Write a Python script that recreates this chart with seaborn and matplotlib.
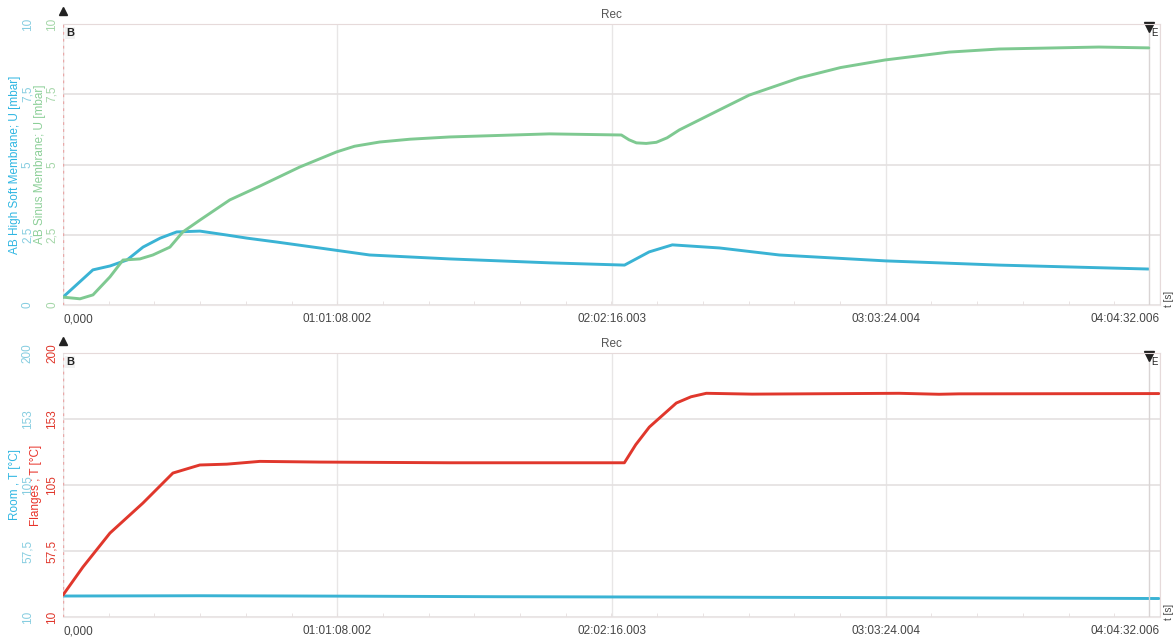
import matplotlib
matplotlib.use("Agg")
import matplotlib.pyplot as plt
import seaborn as sns
import numpy as np
from matplotlib.ticker import FixedLocator, MultipleLocator

# time axis (seconds) and tick labels
x_ticks = [0, 3668.002, 7336.003, 11004.004, 14672.006]
x_ticklabels = ["0,000", "01:01:08.002", "02:02:16.003", "03:03:24.004", "04:04:32.006"]
t_end = 14672.006
cursor_e = 14525

# top panel: AB High Soft Membrane [mbar]
soft_t = [0, 400, 630, 855, 1070, 1300, 1520, 1830, 2190, 2460, 2860, 3430, 4100,
          5170, 6510, 7510, 7840, 8150, 8780, 9580, 11000, 12520, 14520]
soft_u = [0.28, 1.25, 1.39, 1.6, 2.06, 2.38, 2.6, 2.63, 2.49, 2.38, 2.24, 2.03, 1.78,
          1.64, 1.5, 1.42, 1.89, 2.14, 2.03, 1.78, 1.57, 1.42, 1.28]

# top panel: AB Sinus Membrane [mbar]
sinus_t = [0, 227, 401, 628, 802, 1029, 1202, 1430, 1603, 1830, 2231, 2632, 3166, 3661,
           3900, 4235, 4640, 5170, 6506, 7468, 7570, 7669, 7800, 7936, 8080, 8243, 8777,
           9178, 9846, 10400, 10995, 11850, 12518, 13854, 14522]
sinus_u = [0.28, 0.22, 0.36, 1.0, 1.6, 1.64, 1.78, 2.06, 2.6, 3.02, 3.74, 4.23, 4.91, 5.45,
           5.65, 5.8, 5.9, 5.98, 6.09, 6.05, 5.88, 5.77, 5.75, 5.79, 5.95, 6.23, 6.94,
           7.47, 8.08, 8.45, 8.72, 9.0, 9.11, 9.18, 9.15]

# bottom panel: Flanges temperature [°C]
flange_t = [0, 267, 628, 1069, 1470, 1830, 2191, 2632, 3434, 5170, 6506, 7508, 7660,
            7842, 8203, 8400, 8604, 9218, 11182, 11717, 11984, 14656]
flange_T = [25.8, 46, 70.4, 92, 113.6, 119.4, 120, 122, 121.5, 121, 121, 121, 134,
            146.7, 164, 168.5, 171, 170.4, 171, 170.3, 170.6, 170.8]

# bottom panel: Room temperature [°C]
room_t = [0, 1830, 3830, 5840, 8510, 11182, 14656]
room_T = [25.1, 25.3, 25.0, 24.6, 24.3, 23.9, 23.3]

blue = "#3ab3d4"
green = "#7ec991"
red = "#e0372c"
blue_tick = "#86cde0"
green_tick = "#a4d6a8"

sns.set_style("white")
plt.rcParams["font.family"] = ["Liberation Sans", "DejaVu Sans"]

fig = plt.figure(figsize=(11.76, 6.41), dpi=100)
W, H = 1176.0, 641.0
axw = (1160 - 63) / W
ax_top = fig.add_axes([63 / W, 1 - 305 / H, axw, (305 - 24) / H])
ax_bot = fig.add_axes([63 / W, 1 - 617 / H, axw, (617 - 353) / H])


def style_panel(ax, ax2, ylim, yticks, ylabels, c1, c1t, c2, c2t, lab1, lab2, l1x, l2x):
    for a in (ax, ax2):
        a.set_xlim(0, t_end)
        a.set_ylim(*ylim)
        a.yaxis.set_major_locator(FixedLocator(yticks))
        a.set_yticklabels(ylabels, rotation=90, va="center", fontsize=8.5)
        for s in a.spines.values():
            s.set_visible(False)
    ax.tick_params(axis="y", length=0, pad=21, colors=c1t)
    ax2.yaxis.tick_left()
    ax2.yaxis.set_label_position("left")
    ax2.tick_params(axis="y", length=0, pad=3.5, colors=c2t, right=False, labelright=False)
    ax.set_ylabel(lab1, color=c1, fontsize=8.5)
    ax2.set_ylabel(lab2, color=c2, fontsize=8.5)
    ax.yaxis.set_label_coords(l1x, 0.5)
    ax2.yaxis.set_label_coords(l2x, 0.5)

    ax.xaxis.set_major_locator(FixedLocator(x_ticks))
    ax.set_xticklabels(x_ticklabels, fontsize=8.5, color="#444444")
    ax.xaxis.set_minor_locator(MultipleLocator(611.3))
    ax.tick_params(axis="x", which="major", length=0, pad=6)
    ax.tick_params(axis="x", which="minor", length=3, color="#e6dede", direction="in", bottom=True)
    labs = ax.get_xticklabels()
    labs[0].set_ha("left")
    labs[-1].set_ha("right")
    ax2.tick_params(axis="x", length=0, labelbottom=False)

    ax.grid(True, axis="y", color="#e4e0e0", linewidth=1.2)
    ax.grid(True, axis="x", color="#e8e6e6", linewidth=1.0)
    ax.axvline(0, color="#e9a8a8", linestyle=(0, (2, 3)), linewidth=1.0)
    ax.axvline(cursor_e, color="#d9d4d4", linewidth=1.0)
    for side in ("top", "right"):
        ax.spines[side].set_visible(True)
        ax.spines[side].set_color("#e6dada")
    ax.spines["bottom"].set_visible(True)
    ax.spines["bottom"].set_color("#ece6e6")

    ax.set_title("Rec", fontsize=8.5, color="#555555", pad=4)
    ax.text(0.003, 0.985, "B", transform=ax.transAxes, fontsize=8, color="#222222",
            ha="left", va="top", fontweight="bold",
            bbox=dict(boxstyle="square,pad=0.1", fc="#f2f2f2", ec="none"))
    ax.plot([0], [1.045], marker="^", color="#222222", markersize=6,
            transform=ax.transAxes, clip_on=False)
    ax.plot([cursor_e / t_end], [0.99], marker="v", color="#222222", markersize=7,
            transform=ax.transAxes, clip_on=False)
    ax.text(cursor_e / t_end + 0.002, 0.985, "E", transform=ax.transAxes, fontsize=7,
            color="#222222", ha="left", va="top")
    ax.text(1.004, 0.02, "t [s]", transform=ax.transAxes, fontsize=7, color="#444444",
            rotation=90, ha="left", va="center")


# top panel
ax_top2 = ax_top.twinx()
sns.lineplot(x=soft_t, y=soft_u, ax=ax_top, color=blue, linewidth=2.1, legend=False)
sns.lineplot(x=sinus_t, y=sinus_u, ax=ax_top2, color=green, linewidth=2.1, legend=False)
style_panel(ax_top, ax_top2, (0, 10), [0, 2.5, 5, 7.5, 10], ["0", "2,5", "5", "7,5", "10"],
            "#2fb6e2", blue_tick, "#8ccf98", green_tick,
            "AB High Soft Membrane; U [mbar]", "AB Sinus Membrane; U [mbar]",
            -0.038, -0.0155)

# bottom panel
ax_bot2 = ax_bot.twinx()
sns.lineplot(x=room_t, y=room_T, ax=ax_bot, color=blue, linewidth=2.1, legend=False)
sns.lineplot(x=flange_t, y=flange_T, ax=ax_bot2, color=red, linewidth=2.1, legend=False)
style_panel(ax_bot, ax_bot2, (10, 200), [10, 57.5, 105, 152.5, 200],
            ["10", "57,5", "105", "153", "200"],
            "#2fb6e2", blue_tick, "#e8332a", "#e0372c",
            "Room , T [°C]", "Flanges ; T [°C]",
            -0.038, -0.019)

fig.savefig("out.png", dpi=100)
